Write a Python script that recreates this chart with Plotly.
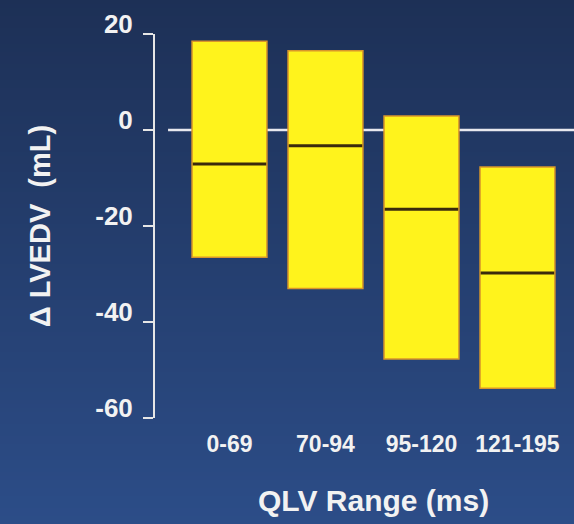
import plotly.graph_objects as go

# ---- data ----
categories = ["0-69", "70-94", "95-120", "121-195"]
box_top = [18.5, 16.5, 2.9, -7.7]
box_bottom = [-26.5, -33.0, -47.7, -53.8]
median = [-7.1, -3.3, -16.5, -29.8]
y_ticks = [20, 0, -20, -40, -60]
y_tick_labels = ["20", "0", "-20", "-40", "-60"]
y_title = "Δ LVEDV\u00a0 (mL)"
x_title = "QLV Range (ms)"

# ---- layout constants ----
W, H = 574, 524
ML, MR, MT, MB = 155, 0, 34, 106
plot_w = W - ML - MR
plot_h = H - MT - MB

top_rgb = (29, 48, 86)
bot_rgb = (44, 77, 136)

FONT = "Liberation Sans, Arial, sans-serif"
TXT = "#f2f2f2"
AXC = "#e6e6e6"

fig = go.Figure()

fig.add_bar(
    x=categories,
    y=[t - b for t, b in zip(box_top, box_bottom)],
    base=box_bottom,
    width=0.78,
    marker=dict(color="#fff31c", line=dict(color="#d9962a", width=1.5)),
    hoverinfo="skip",
    showlegend=False,
)
fig.add_scatter(
    x=categories,
    y=median,
    mode="markers",
    marker=dict(symbol="line-ew", size=52.5, line=dict(color="#3a2a0c", width=3)),
    hoverinfo="skip",
    showlegend=False,
)

# background gradient stripes
shapes = []
n = 131
for i in range(n):
    y0px = i * H / n
    y1px = (i + 1) * H / n + 0.6
    t = (i + 0.5) / n
    c = tuple(round(a + (b - a) * t) for a, b in zip(top_rgb, bot_rgb))
    shapes.append(dict(
        type="rect", xref="paper", yref="paper", layer="below",
        x0=-ML / plot_w - 0.01, x1=1 + MR / plot_w + 0.01,
        y0=(H - MB - y1px) / plot_h, y1=(H - MB - y0px) / plot_h,
        fillcolor="rgb(%d,%d,%d)" % c, line=dict(width=0),
    ))
# zero reference line
shapes.append(dict(
    type="line", xref="x", yref="y", layer="below",
    x0=-0.64, x1=3.7, y0=0, y1=0,
    line=dict(color="#e8e8ee", width=2.5),
))

fig.update_layout(
    width=W, height=H,
    margin=dict(l=ML, r=MR, t=MT, b=MB),
    paper_bgcolor="rgb(36,62,110)",
    plot_bgcolor="rgba(0,0,0,0)",
    shapes=shapes,
    showlegend=False,
    annotations=[dict(
        text=x_title, xref="x", yref="paper", x=1.5, y=-(500 - (H - MB)) / plot_h,
        xanchor="center", yanchor="middle", showarrow=False,
        font=dict(family=FONT, size=30, color=TXT, weight="bold"),
    )],
)
fig.update_yaxes(
    range=[-60, 20],
    tickvals=y_ticks, ticktext=y_tick_labels,
    showgrid=False, zeroline=False,
    showline=True, linecolor=AXC, linewidth=2,
    ticks="outside", ticklen=10, tickwidth=2, tickcolor=AXC,
    tickfont=dict(family=FONT, size=26, color=TXT, weight="bold"),
    ticklabelshift=-10,
    ticklabelstandoff=5,
    title=dict(text=y_title, font=dict(family=FONT, size=29, color=TXT, weight="bold"), standoff=36),
)
fig.update_xaxes(
    type="category",
    range=[-0.776, 3.589],
    showgrid=False, zeroline=False, showline=False,
    ticks="",
    tickfont=dict(family=FONT, size=23, color=TXT, weight="bold"),
    ticklabelstandoff=10,
)

fig.write_html(
    "out.html",
    config={"displayModeBar": False},
    post_script="document.body.style.margin='0';document.body.style.overflow='hidden';",
)
